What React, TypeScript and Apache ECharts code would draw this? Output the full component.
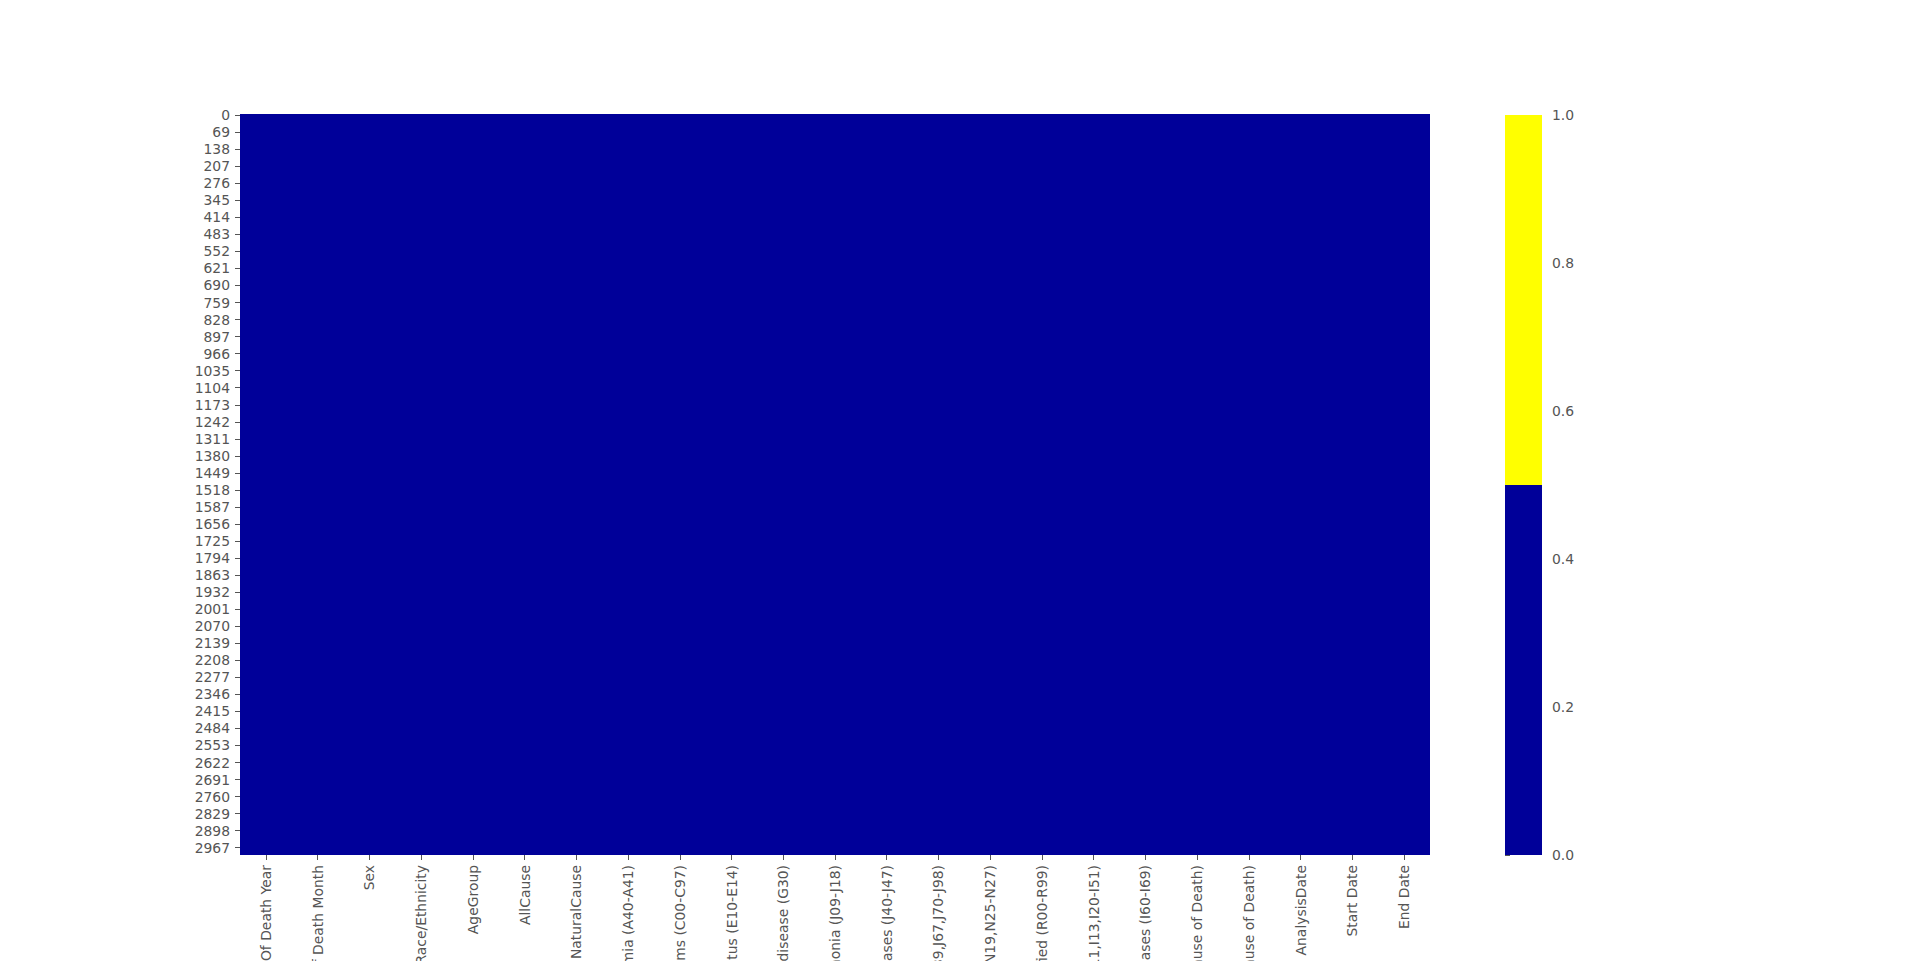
import React, { useEffect, useRef } from "react";
import * as echarts from "echarts";

// Columns of the dataset (x-axis categories)
const columns = [
  "Date Of Death Year",
  "Date Of Death Month",
  "Sex",
  "Race/Ethnicity",
  "AgeGroup",
  "AllCause",
  "NaturalCause",
  "Septicemia (A40-A41)",
  "Malignant neoplasms (C00-C97)",
  "Diabetes mellitus (E10-E14)",
  "Alzheimer disease (G30)",
  "Influenza and pneumonia (J09-J18)",
  "Chronic lower respiratory diseases (J40-J47)",
  "Other diseases of respiratory system (J00-J06,J30-J39,J67,J70-J98)",
  "Nephritis, nephrotic syndrome and nephrosis (N00-N07,N17-N19,N25-N27)",
  "Symptoms, signs and abnormal clinical and laboratory findings, not elsewhere classified (R00-R99)",
  "Diseases of heart (I00-I09,I11,I13,I20-I51)",
  "Cerebrovascular diseases (I60-I69)",
  "COVID-19 (U071, Multiple Cause of Death)",
  "COVID-19 (U071, Underlying Cause of Death)",
  "AnalysisDate",
  "Start Date",
  "End Date",
];

// Number of rows in the frame (y-axis categories) and tick step of the row labels
const rowCount = 2997;
const rowTickStep = 69;

// isnull() map, stored as runs: [columnIndex, firstRow, lastRow, value]
const nullRuns = [
  [0, 0, 2996, 0],
  [1, 0, 2996, 0],
  [2, 0, 2996, 0],
  [3, 0, 2996, 0],
  [4, 0, 2996, 0],
  [5, 0, 2996, 0],
  [6, 0, 2996, 0],
  [7, 0, 2996, 0],
  [8, 0, 2996, 0],
  [9, 0, 2996, 0],
  [10, 0, 2996, 0],
  [11, 0, 2996, 0],
  [12, 0, 2996, 0],
  [13, 0, 2996, 0],
  [14, 0, 2996, 0],
  [15, 0, 2996, 0],
  [16, 0, 2996, 0],
  [17, 0, 2996, 0],
  [18, 0, 2996, 0],
  [19, 0, 2996, 0],
  [20, 0, 2996, 0],
  [21, 0, 2996, 0],
  [22, 0, 2996, 0],
];

// Two-colour colormap bins: [from, to, colour]
const colormapBins: [number, number, string][] = [
  [0, 0.5, "#000099"],
  [0.5, 1, "#ffff00"],
];

const TEXT = "#555555";
const FONT = "DejaVu Sans";
const FS = 13.9;

function colorFor(v: number): string {
  for (const [a, b, c] of colormapBins) {
    if (v >= a && v <= b) return c;
  }
  return colormapBins[0][2];
}

export default function App() {
  const ref = useRef<HTMLDivElement>(null);
  useEffect(() => {
    if (!ref.current) return;
    const chart = echarts.init(ref.current, null, { renderer: "svg" });
    const rowLabels = Array.from({ length: rowCount }, (_, i) => String(i));
    const showRow = (idx: number) => idx % rowTickStep === 0;
    chart.setOption({
      animation: false,
      backgroundColor: "#ffffff",
      grid: [
        { left: 240, top: 115, width: 1190, height: 740, containLabel: false, outerBoundsMode: "none" },
        { left: 1505, top: 115, width: 37, height: 740, containLabel: false, outerBoundsMode: "none" },
      ],
      xAxis: [
        {
          type: "category",
          gridIndex: 0,
          data: columns,
          position: "bottom",
          axisLine: { show: false },
          axisTick: {
            show: true,
            alignWithLabel: true,
            length: 5,
            lineStyle: { color: TEXT, width: 1 },
          },
          axisLabel: {
            rotate: 90,
            interval: 0,
            margin: 10,
            color: TEXT,
            fontFamily: FONT,
            fontSize: FS,
            hideOverlap: false,
          },
          splitLine: { show: false },
        },
        {
          type: "value",
          gridIndex: 1,
          min: 0,
          max: 1,
          show: false,
        },
      ],
      yAxis: [
        {
          type: "category",
          gridIndex: 0,
          data: rowLabels,
          inverse: true,
          axisLine: { show: false },
          axisTick: {
            show: true,
            alignWithLabel: true,
            interval: (idx: number) => showRow(idx),
            length: 5,
            lineStyle: { color: TEXT, width: 1 },
          },
          axisLabel: {
            interval: (idx: number) => showRow(idx),
            margin: 10,
            color: TEXT,
            fontFamily: FONT,
            fontSize: FS,
          },
          splitLine: { show: false },
        },
        {
          type: "value",
          gridIndex: 1,
          position: "right",
          min: 0,
          max: 1,
          interval: 0.2,
          axisLine: { show: false },
          axisTick: {
            show: true,
            length: 5,
            lineStyle: { color: TEXT, width: 1 },
          },
          axisLabel: {
            margin: 10,
            color: TEXT,
            fontFamily: FONT,
            fontSize: FS,
            formatter: (v: number) => v.toFixed(1),
          },
          splitLine: { show: false },
        },
      ],
      series: [
        {
          type: "custom",
          xAxisIndex: 0,
          yAxisIndex: 0,
          data: nullRuns,
          encode: { x: 0, y: [1, 2] },
          renderItem: (params: any, api: any) => {
            const c = api.value(0);
            const r0 = api.value(1);
            const r1 = api.value(2);
            const v = api.value(3);
            const p0 = api.coord([c, r0]);
            const p1 = api.coord([c, r1]);
            const s = api.size([1, 1]);
            const left = Math.floor(p0[0] - s[0] / 2);
            const right = Math.ceil(p0[0] + s[0] / 2);
            const top = Math.floor(Math.min(p0[1], p1[1]) - s[1] / 2);
            const bottom = Math.ceil(Math.max(p0[1], p1[1]) + s[1] / 2);
            return {
              type: "rect",
              shape: { x: left, y: top, width: right - left, height: bottom - top },
              style: { fill: colorFor(v) },
            };
          },
        },
        {
          type: "custom",
          xAxisIndex: 1,
          yAxisIndex: 1,
          data: colormapBins.map((b) => [b[0], b[1]]),
          encode: { y: [0, 1] },
          renderItem: (params: any, api: any) => {
            const a = api.value(0);
            const b = api.value(1);
            const pa = api.coord([0, a]);
            const pb = api.coord([1, b]);
            return {
              type: "rect",
              shape: {
                x: pa[0],
                y: pb[1],
                width: pb[0] - pa[0],
                height: pa[1] - pb[1],
              },
              style: { fill: colorFor((a + b) / 2) },
            };
          },
        },
      ],
    });
    return () => chart.dispose();
  }, []);
  return (
    <div
      ref={ref}
      style={{
        position: "absolute",
        left: 0,
        top: 0,
        width: 1920,
        height: 961,
        overflow: "hidden",
      }}
    />
  );
}
